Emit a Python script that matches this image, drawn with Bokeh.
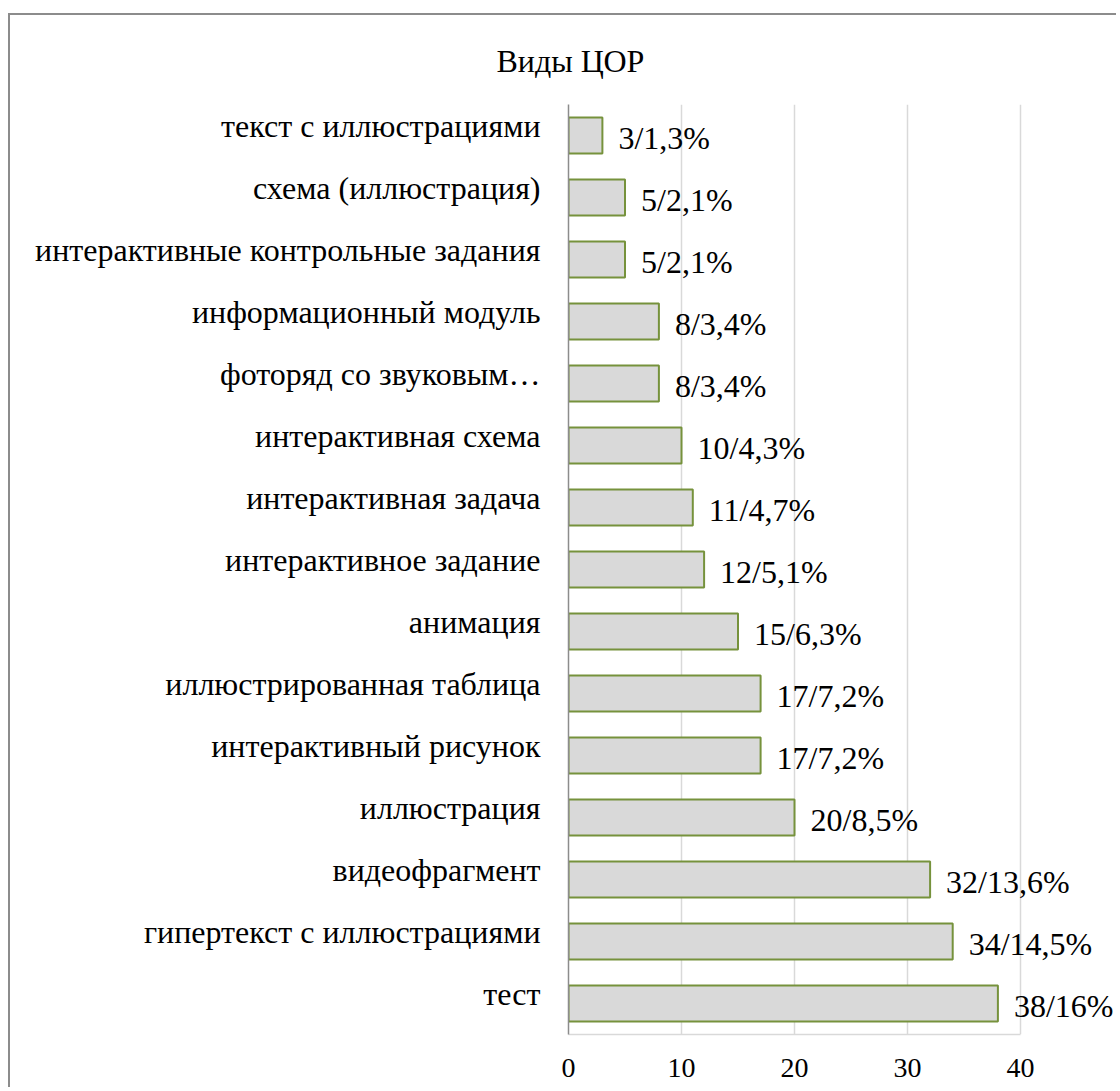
from bokeh.plotting import figure
from bokeh.models import Range1d, FixedTicker, CustomJSTickFormatter, ColumnDataSource
from bokeh.core.properties import value
from bokeh.embed import file_html
from bokeh.resources import INLINE

# Data (top to bottom as in the chart)
categories = [
    "текст с иллюстрациями",
    "схема (иллюстрация)",
    "интерактивные контрольные задания",
    "информационный модуль",
    "фоторяд со звуковым…",
    "интерактивная схема",
    "интерактивная задача",
    "интерактивное задание",
    "анимация",
    "иллюстрированная таблица",
    "интерактивный рисунок",
    "иллюстрация",
    "видеофрагмент",
    "гипертекст с иллюстрациями",
    "тест",
]
counts = [3, 5, 5, 8, 8, 10, 11, 12, 15, 17, 17, 20, 32, 34, 38]
percents = ["1,3%", "2,1%", "2,1%", "3,4%", "3,4%", "4,3%", "4,7%", "5,1%",
            "6,3%", "7,2%", "7,2%", "8,5%", "13,6%", "14,5%", "16%"]
x_ticks = [0, 10, 20, 30, 40]
title_text = "Виды ЦОР"

FONT = "Liberation Serif"
n = len(categories)
# bottom-up positions
ypos = [n - 1 - k for k in range(n)]
names_bottom_up = list(reversed(categories))
labels = [f"{c}/{p}" for c, p in zip(counts, percents)]

src = ColumnDataSource(dict(y=ypos, v=counts, lab=labels))

W = 1108
p = figure(width=W, height=1074, output_backend="svg", toolbar_location=None,
           x_range=Range1d(0, 40 * (W - 558) / 452.0), y_range=Range1d(-0.5, n - 0.5),
           min_border_left=558, min_border_right=0, min_border_top=89,
           min_border_bottom=55)
p.styles = {"border-left": "2px solid #8c8c8c", "border-top": "2px solid #8c8c8c",
            "margin-top": "13px", "margin-left": "8px"}
p.outline_line_color = None
p.background_fill_color = "white"
p.border_fill_color = "white"

p.title.text = title_text
p.title.text_font = FONT
p.title.text_font_size = "32px"
p.title.text_font_style = "normal"
p.title.text_color = "#000000"
p.title.align = "left"
p.title.offset = -72
p.title.standoff = 51

p.hbar(y="y", right="v", left=0, height=0.58, source=src,
       fill_color="#d9d9d9", line_color="#76923c", line_width=2)

p.text(x="v", y="y", text="lab", source=src, x_offset=16, y_offset=2,
       text_font=value(FONT), text_font_size="32px", text_color="#000000",
       text_align="left", text_baseline="middle")

# x axis
p.xaxis.ticker = FixedTicker(ticks=x_ticks)
p.xaxis.bounds = (0, 40)
p.xaxis.axis_line_color = "#d9d9d9"
p.xaxis.axis_line_width = 1.5
p.xaxis.major_tick_line_color = None
p.xaxis.minor_tick_line_color = None
p.xaxis.major_tick_out = 0
p.xaxis.major_tick_in = 0
p.xaxis.major_label_standoff = 24
p.xaxis.major_label_text_font = FONT
p.xaxis.major_label_text_font_size = "28px"
p.xaxis.major_label_text_color = "#000000"

p.xgrid.ticker = FixedTicker(ticks=x_ticks)
p.xgrid.grid_line_color = "#d9d9d9"
p.xgrid.grid_line_width = 1.5
p.ygrid.grid_line_color = None

# y axis
p.yaxis.ticker = FixedTicker(ticks=[i + 0.15 for i in range(n)])
p.yaxis.formatter = CustomJSTickFormatter(
    args=dict(names=names_bottom_up),
    code="const i = Math.round(tick); return (i >= 0 && i < names.length) ? names[i] : '';")
p.yaxis.axis_line_color = "#8c8c8c"
p.yaxis.axis_line_width = 1.5
p.yaxis.major_tick_line_color = None
p.yaxis.minor_tick_line_color = None
p.yaxis.major_tick_out = 0
p.yaxis.major_tick_in = 0
p.yaxis.major_label_standoff = 28
p.yaxis.major_label_text_font = FONT
p.yaxis.major_label_text_font_size = "32px"
p.yaxis.major_label_text_color = "#000000"

open("out.html", "w").write(file_html(p, INLINE))
